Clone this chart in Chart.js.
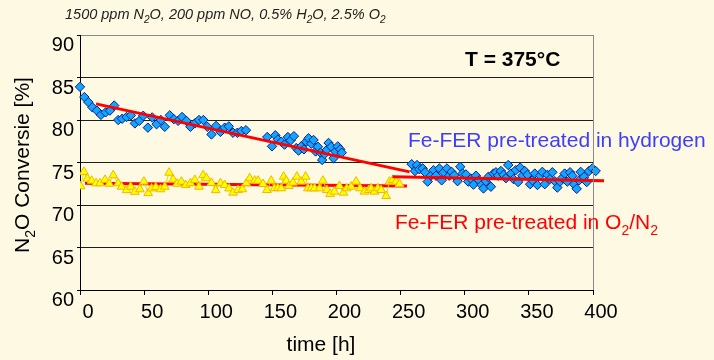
<!DOCTYPE html>
<html>
<head>
<meta charset="utf-8">
<title>N2O Conversie</title>
<script src="https://cdn.jsdelivr.net/npm/chart.js@4.4.1/dist/chart.umd.min.js"></script>
<style>
  html, body { margin: 0; padding: 0; background: #FEF9E2; }
  #wrap { width: 714px; height: 360px; position: relative; }
</style>
</head>
<body>
<div id="wrap"><canvas id="conv_chart" width="714" height="360"></canvas></div>
<script>
// Fe-FER pre-treated in hydrogen (blue diamonds)
var hydTime = [0, 3.4, 6.5, 9.6, 13.2, 16.3, 20, 23.3, 26.7, 29.8, 32.9, 36.3, 39.7, 42.8, 46.2, 49.3,
  52.9, 56.3, 59.7, 63, 66.1, 70, 73.2, 76.5, 79.6, 83, 86.1, 89.5, 92.8, 96.2, 99.3, 102.5, 106.1,
  109.5, 112.8, 116, 119.3, 122.7, 125.8, 129.4,
  146, 149.7, 152.3, 154.3, 157, 159.5, 162.1, 164.2, 166.8, 168.6, 170.4, 172.5, 174.6, 176.4, 178.2,
  180.3, 182.1, 183.7, 185.5, 187.5, 188.8, 190.7, 192.5, 193.8, 195.9, 197.7, 199.2, 201, 202.9, 204.1,
  258.6, 261.2, 262.8, 264.6, 267.2, 269, 271.1, 273.7, 275.7, 277.6, 280.2, 282, 283.5, 286.1, 287.9,
  289.7, 291.8, 294.4, 296.5, 298.3, 300.9, 302.7, 304.8, 306.8, 308.7, 311.3, 313.1, 314.6, 316.5,
  318.3, 320.4, 322.4, 324.3, 326.1, 328.2, 330.2, 332.1, 333.9, 336, 338, 339.8, 341.6, 343.2, 345,
  346.8, 348.9, 351, 352.8, 354.6, 356.7, 358.8, 360.5, 362.4, 364.4, 366.5, 368.3, 370.2, 372.2,
  374.3, 376.1, 377.9, 380, 382.1, 383.9, 385.2, 387.3, 389.1, 390.4, 393, 395.1, 396.9, 399.5, 402.1,
  403.9, 406];
var hydConv = [83.9, 82.7, 82.1, 81.5, 81.1, 80.6, 80.9, 81.1, 81.7, 80.0, 80.15, 80.35, 80.55, 79.6, 79.9, 80.5,
  79.1, 80.3, 79.5, 80.0, 79.2, 80.55, 80.1, 79.9, 80.35, 79.9, 79.2, 79.6, 80.0, 80.0, 79.2, 78.3, 79.3,
  78.6, 79.1, 79.25, 78.5, 78.5, 78.7, 78.8,
  78.0, 76.9, 78.2, 77.7, 77.45, 77.1, 78.0, 77.6, 78.1, 76.7, 76.4, 76.9, 76.55, 77.45, 77.85,
  77.2, 77.65, 76.3, 76.85, 76.15, 75.3, 76.0, 76.5, 77.3, 76.85, 75.5, 76.3, 76.9, 76.55, 76.15,
  74.8, 74.0, 74.7, 74.2, 74.3, 73.85, 72.75, 73.45, 74.1, 73.45, 74.3, 72.9, 73.85, 74.3, 73.45,
  73.9, 73.5, 72.8, 74.5, 73.7, 73.6, 72.75, 73.1, 72.4, 73.45, 72.9, 72.35, 71.95, 72.8,
  73.3, 72.15, 73.7, 73.85, 73.45, 74.0, 73.55, 73.15, 74.7, 73.7, 73.05, 74.1, 72.7, 74.4, 73.45,
  74.0, 73.55, 72.45, 72.9, 73.7, 72.35, 73.45, 73.9, 72.45, 73.55, 73.05, 73.85, 72.8, 72.05,
  72.75, 73.2, 73.7, 72.75, 73.85, 73.45, 72.45, 71.9, 72.9, 73.9, 73.3, 72.7, 74.0, 74.3, 74.0,
  74.7, 75.0];

// Fe-FER pre-treated in O2/N2 (yellow triangles)
var oxTime = [0.5, 3.1, 5.7, 9.1, 12.5, 15.6, 19.5, 22.8, 25.9, 29.8, 32.4, 36.3, 39.5, 42.8, 46.7, 49.8,
  53.2, 55.8, 59.1, 62.8, 66.1, 69.5, 72.6, 75.7, 79.1, 82.5, 86.1, 89.5, 92.8, 96, 98.6, 102.5, 105.8,
  109.5, 112.8, 116.2, 119.3, 123.2, 126.6, 129.7, 132.3, 136.2, 138.8, 142.7, 145.8, 149.1, 151.7,
  154.3, 156.9, 158.8, 160.8, 162.9, 166, 169.1, 172.5, 175.9, 177.7, 180.3, 182.9, 186.8, 189.4,
  192.5, 195.1, 198.4, 202.3, 205.4, 208, 211.4, 215.3, 218.4, 221.8, 225.1, 227, 229.6, 232.2, 234.8,
  238.7, 241.3, 243.9, 246.5, 249.1];
var oxConv = [72.2, 73.9, 73.1, 72.85, 72.55, 72.55, 72.95, 72.5, 73.5, 72.55, 72.15, 71.75, 72.15, 71.55, 71.85, 72.75,
  71.4, 71.95, 72.1, 71.85, 72.15, 73.8, 73.0, 72.5, 72.75, 72.35, 72.55, 72.95, 72.15, 73.5, 73.15, 72.6, 71.75,
  72.55, 72.35, 71.95, 71.45, 71.75, 71.85, 72.55, 73.14, 72.86, 72.86, 72.47, 71.76, 72.86, 71.96,
  72.0, 71.96, 73.33, 72.86, 72.24, 72.63, 73.33, 72.75, 73.33, 71.96, 71.96, 71.96, 71.96, 72.86,
  71.76, 71.3, 71.57, 72.24, 71.45, 71.96, 72.16, 72.75, 71.96, 71.57, 71.76, 71.96, 71.57, 71.96, 71.76,
  71.06, 72.75, 72.94, 72.75, 72.47];

// red trend lines
var hydDropTime = [12.5, 257];
var hydDropConv = [81.9, 73.9];
var hydFlatTime = [243.6, 408.6];
var hydFlatConv = [73.33, 72.86];
var oxFlatTime = [3.9, 255];
var oxFlatConv = [72.55, 72.24];

var xTicks = [0, 50, 100, 150, 200, 250, 300, 350, 400];
var yTicks = [60, 65, 70, 75, 80, 85, 90];

var FONT = '"Liberation Sans", Arial, sans-serif';

function pts(xs, ys) {
    return xs.map(function (x, i) { return {x: x, y: ys[i]}; });
}

// draws text made of [string, isSubscript] parts, starting at x
function richText(ctx, parts, x, y, size, style) {
    parts.forEach(function (p) {
        var s = p[1] ? Math.round(size * 0.68) : size;
        ctx.font = style + ' ' + s + 'px ' + FONT;
        ctx.fillText(p[0], x, p[1] ? y + size * 0.3 : y);
        x += ctx.measureText(p[0]).width;
    });
    return x;
}
function richWidth(ctx, parts, size, style) {
    var w = 0;
    parts.forEach(function (p) {
        ctx.font = style + ' ' + (p[1] ? Math.round(size * 0.68) : size) + 'px ' + FONT;
        w += ctx.measureText(p[0]).width;
    });
    return w;
}

var decor = {
    id: 'decor',
    beforeDraw: function (chart) {
        var ctx = chart.ctx;
        ctx.save();
        ctx.fillStyle = '#FEF9E2';
        ctx.fillRect(0, 0, chart.width, chart.height);
        ctx.restore();
    },
    afterDatasetsDraw: function (chart) {
        var ctx = chart.ctx, a = chart.chartArea;
        ctx.save();
        // right frame line
        ctx.strokeStyle = '#8a8a8a';
        ctx.lineWidth = 1;
        ctx.beginPath();
        ctx.moveTo(a.right + 0.5, a.top);
        ctx.lineTo(a.right + 0.5, a.bottom);
        ctx.stroke();

        ctx.textBaseline = 'alphabetic';
        ctx.fillStyle = '#222';
        richText(ctx, [['1500 ppm N', 0], ['2', 1], ['O, 200 ppm NO, 0.5% H', 0], ['2', 1], ['O, 2.5% O', 0], ['2', 1]],
            65, 19, 14.5, 'italic');

        ctx.fillStyle = '#000';
        richText(ctx, [['T = 375°C', 0]], 465, 66, 21, 'bold');

        ctx.fillStyle = '#3d3dff';
        richText(ctx, [['Fe-FER pre-treated in hydrogen', 0]], 408, 147, 21, '');

        ctx.fillStyle = '#ff0000';
        richText(ctx, [['Fe-FER pre-treated in O', 0], ['2', 1], ['/N', 0], ['2', 1]], 395, 229, 21, '');

        // axis titles
        ctx.fillStyle = '#000';
        ctx.font = '21px ' + FONT;
        ctx.textAlign = 'center';
        ctx.fillText('time [h]', 321, 351);
        ctx.textAlign = 'left';

        var yt = [['N', 0], ['2', 1], ['O Conversie [%]', 0]];
        var w = richWidth(ctx, yt, 21, '');
        ctx.translate(28.5, 165);
        ctx.rotate(-Math.PI / 2);
        richText(ctx, yt, -w / 2, 0, 21, '');
        ctx.restore();
    }
};

var chx = document.getElementById('conv_chart');
var cChart = new Chart(chx, {
    type: 'scatter',
    data: {
        datasets: [{
            label: 'trend hydrogen',
            data: pts(hydDropTime, hydDropConv),
            showLine: true,
            borderColor: '#ff0000',
            borderWidth: 3,
            pointRadius: 0,
            clip: false,
            order: 0
        }, {
            label: 'plateau hydrogen',
            data: pts(hydFlatTime, hydFlatConv),
            showLine: true,
            borderColor: '#ff0000',
            borderWidth: 3,
            pointRadius: 0,
            clip: false,
            order: 0
        }, {
            label: 'Fe-FER pre-treated in hydrogen',
            data: pts(hydTime, hydConv),
            showLine: false,
            pointStyle: 'rectRot',
            pointRadius: 4.7,
            backgroundColor: '#12a6ff',
            borderColor: '#0a1f8c',
            borderWidth: 1,
            clip: false,
            order: 1
        }, {
            label: 'Fe-FER pre-treated in O2/N2',
            data: pts(oxTime, oxConv),
            showLine: true,
            borderColor: '#f5d000',
            borderWidth: 1,
            pointStyle: 'triangle',
            pointRadius: 5,
            backgroundColor: '#ffff00',
            pointBorderColor: '#f0b800',
            pointBorderWidth: 1,
            order: 2
        }, {
            label: 'trend O2/N2',
            data: pts(oxFlatTime, oxFlatConv),
            showLine: true,
            borderColor: '#ff0000',
            borderWidth: 3,
            pointRadius: 0,
            order: 3
        }]
    },
    options: {
        responsive: false,
        animation: false,
        layout: { padding: { left: 0, top: 35, right: 121, bottom: 0 } },
        plugins: {
            legend: { display: false },
            tooltip: { enabled: false }
        },
        scales: {
            x: {
                type: 'linear',
                min: 0,
                max: 400,
                afterBuildTicks: function (s) { s.ticks = xTicks.map(function (v) { return {value: v}; }); },
                afterFit: function (s) { s.height = 70; },
                ticks: {
                    font: { size: 20, family: FONT },
                    color: '#000',
                    padding: 5,
                    labelOffset: 8,
                    maxRotation: 0
                },
                grid: { drawOnChartArea: false, tickLength: 5, tickColor: '#000' },
                border: { color: '#000', width: 1 }
            },
            y: {
                min: 60,
                max: 90,
                afterBuildTicks: function (s) { s.ticks = yTicks.map(function (v) { return {value: v}; }); },
                afterFit: function (s) { s.width = 80; },
                ticks: {
                    font: { size: 20, family: FONT },
                    color: '#000',
                    padding: 3,
                    labelOffset: 10.5
                },
                grid: {
                    color: function (c) { return c.tick && c.tick.value === 90 ? '#8a8a8a' : '#1e1e1e'; },
                    tickLength: 3,
                    tickColor: '#000'
                },
                border: { color: '#000', width: 1 }
            }
        }
    },
    plugins: [decor]
});
</script>
</body>
</html>
